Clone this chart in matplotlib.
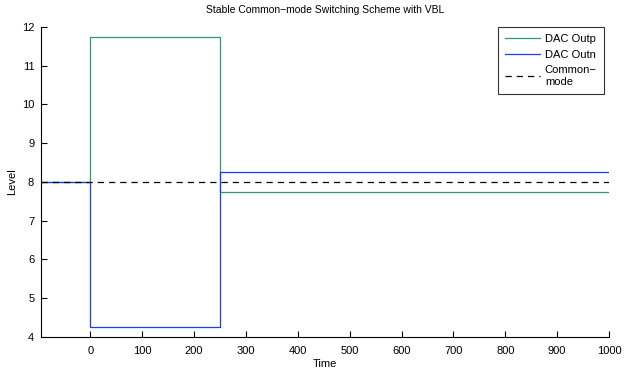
import matplotlib
matplotlib.use("Agg")
import matplotlib.pyplot as plt

plt.rcParams['font.family'] = ['Liberation Sans', 'DejaVu Sans']

# step data (values hold from each time until the next)
t = [-95, 0, 250, 1000]
outp = [8, 11.75, 7.75, 7.75]
outn = [8, 4.25, 8.25, 8.25]
cm_t = [-95, 1000]
cm = [8, 8]

fig = plt.figure(figsize=(6.24, 3.70), dpi=100)
ax = fig.add_axes([0.066, 0.09, 0.91, 0.837])

ax.plot(t, outp, drawstyle="steps-post", color="#2f9a68", lw=0.9, label="DAC Outp")
ax.plot(t, outn, drawstyle="steps-post", color="#1a3cff", lw=0.9, label="DAC Outn")
ax.plot(cm_t, cm, color="black", linestyle=(0, (5, 4)), lw=0.9, label="Common\u2212\nmode")

ax.set_xlim(-95, 1000)
ax.set_ylim(4, 12)
ax.set_xticks(range(0, 1001, 100))
ax.set_yticks(range(4, 13))

ax.spines['top'].set_visible(False)
ax.spines['right'].set_visible(False)
ax.tick_params(direction="in", length=4, width=0.8, labelsize=8)
ax.tick_params(axis="x", pad=7)
ax.tick_params(axis="y", pad=5)

ax.set_xlabel("Time", fontsize=8, labelpad=2)
ax.set_ylabel("Level", fontsize=8, labelpad=3)
ax.set_title("Stable Common\u2212mode Switching Scheme with VBL", fontsize=7.5, pad=10)

leg = ax.legend(loc="upper right", bbox_to_anchor=(0.991, 1.0), fontsize=8,
                frameon=True, fancybox=False, edgecolor="black",
                handlelength=3.2, borderaxespad=0.0,
                labelspacing=0.5, handletextpad=0.4, borderpad=0.65)
leg.get_frame().set_linewidth(0.8)

fig.savefig("out.png", dpi=100)
